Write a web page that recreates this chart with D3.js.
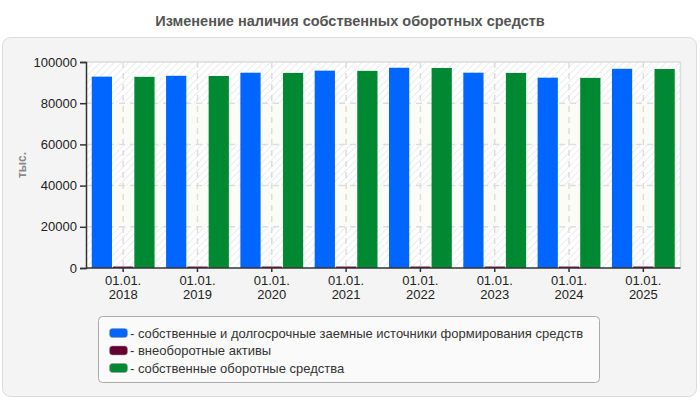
<!DOCTYPE html>
<html>
<head>
<meta charset="utf-8">
<script src="https://cdn.jsdelivr.net/npm/d3@7"></script>
<style>
  body { margin: 0; background: #fff; font-family: "Liberation Sans", Arial, sans-serif; }
  svg { display: block; }
</style>
</head>
<body>
<svg id="chart" width="700" height="400"></svg>
<script>
// chart values
const years = ["2018", "2019", "2020", "2021", "2022", "2023", "2024", "2025"];
const seriesNames = [
  "собственные и долгосрочные заемные источники формирования средств",
  "внеоборотные активы",
  "собственные оборотные средства"
];
const seriesColors = ["#0066ff", "#660033", "#008833"];
const ownAndLongTerm = [92900, 93300, 94800, 95800, 97200, 94800, 92400, 96700];
const nonCurrent = [700, 700, 700, 700, 700, 700, 700, 700];
const ownWorking = [92800, 93200, 94700, 95700, 97100, 94700, 92300, 96600];
const yTicks = [0, 20000, 40000, 60000, 80000, 100000];

const svg = d3.select("#chart");
const margin = { top: 62, right: 19.5, bottom: 132, left: 86 };
const width = 700 - margin.left - margin.right;
const height = 400 - margin.top - margin.bottom;

// title
svg.append("text")
  .attr("x", 350).attr("y", 26)
  .attr("text-anchor", "middle")
  .attr("font-size", 14.5).attr("font-weight", "bold")
  .attr("fill", "#555")
  .text("Изменение наличия собственных оборотных средств");

// outer panel
svg.append("rect")
  .attr("x", 2.5).attr("y", 37.5)
  .attr("width", 694).attr("height", 359)
  .attr("rx", 8)
  .attr("fill", "#f4f4f4")
  .attr("stroke", "#dcdcdc");

const defs = svg.append("defs");
const pat = defs.append("pattern")
  .attr("id", "hatch")
  .attr("patternUnits", "userSpaceOnUse")
  .attr("width", 5).attr("height", 5)
  .attr("patternTransform", "rotate(45)");
pat.append("rect").attr("width", 5).attr("height", 5).attr("fill", "#ffffff");
pat.append("line")
  .attr("x1", 0).attr("y1", 0).attr("x2", 0).attr("y2", 5)
  .attr("stroke", "#ececec").attr("stroke-width", 2);

const g = svg.append("g").attr("transform", `translate(${margin.left},${margin.top})`);

const x = d3.scaleBand().domain(years).range([0, width]).padding(0);
const x1 = d3.scaleBand().domain(d3.range(3)).range([0, x.bandwidth()])
  .paddingInner(0.05).paddingOuter(0.27);
const y = d3.scaleLinear().domain([0, 100000]).range([height, 0]);

// alternating background bands
g.selectAll(".band")
  .data(d3.pairs(yTicks))
  .enter().append("rect")
  .attr("x", 0).attr("width", width)
  .attr("y", (d) => y(d[1]))
  .attr("height", (d) => y(d[0]) - y(d[1]))
  .attr("fill", (d, i) => (i % 2 === 0 ? "url(#hatch)" : "#fcfcf7"));

// grid
g.selectAll(".hgrid")
  .data(yTicks.slice(1))
  .enter().append("line")
  .attr("x1", 0).attr("x2", width)
  .attr("y1", (d) => y(d)).attr("y2", (d) => y(d))
  .attr("stroke", "#dddddd")
  .attr("stroke-width", 1.5)
  .attr("stroke-dasharray", (d) => (d === 100000 ? null : "6,5"));

g.selectAll(".vgrid")
  .data(years)
  .enter().append("line")
  .attr("x1", (d) => x(d) + x.bandwidth() / 2)
  .attr("x2", (d) => x(d) + x.bandwidth() / 2)
  .attr("y1", 0).attr("y2", height)
  .attr("stroke", "#dddddd").attr("stroke-width", 1.5)
  .attr("stroke-dasharray", "6,5");

g.append("line")
  .attr("x1", width).attr("x2", width)
  .attr("y1", 0).attr("y2", height)
  .attr("stroke", "#dddddd").attr("stroke-width", 1.5);

// bars
const allSeries = [ownAndLongTerm, nonCurrent, ownWorking];
allSeries.forEach(function (vals, s) {
  g.selectAll(".bar" + s)
    .data(vals)
    .enter().append("rect")
    .attr("x", (d, i) => x(years[i]) + x1(s))
    .attr("width", x1.bandwidth())
    .attr("y", (d) => y(d))
    .attr("height", (d) => height - y(d))
    .attr("fill", seriesColors[s]);
});

// axes
const yAxis = g.append("g")
  .call(d3.axisLeft(y).tickValues(yTicks).tickSize(6).tickPadding(3).tickFormat(d3.format("d")));
yAxis.select(".domain").attr("stroke", "#333").attr("stroke-width", 1.5);
yAxis.selectAll(".tick line").attr("stroke", "#333").attr("stroke-width", 1.5);
yAxis.selectAll("text")
  .attr("font-size", 13).attr("fill", "#222")
  .attr("font-family", "Liberation Sans, Arial, sans-serif");

const xAxis = g.append("g")
  .attr("transform", `translate(0,${height})`)
  .call(d3.axisBottom(x).tickSize(4).tickFormat(""));
xAxis.select(".domain").attr("stroke", "#333").attr("stroke-width", 1.5)
  .attr("d", `M0,0H${width}`);
xAxis.selectAll(".tick line").attr("stroke", "#333").attr("stroke-width", 1.5);
xAxis.selectAll(".tick").each(function (d) {
  const t = d3.select(this).append("text")
    .attr("text-anchor", "middle")
    .attr("font-size", 13).attr("fill", "#222")
    .attr("font-family", "Liberation Sans, Arial, sans-serif");
  t.append("tspan").attr("x", 0).attr("y", 17).text("01.01.");
  t.append("tspan").attr("x", 0).attr("y", 31).text(d);
});

// y axis label
svg.append("text")
  .attr("transform", "translate(26,165) rotate(-90)")
  .attr("text-anchor", "middle")
  .attr("font-size", 12).attr("font-weight", "bold")
  .attr("fill", "#888")
  .text("тыс.");

// legend
const legend = svg.append("g").attr("transform", "translate(98.5,316.5)");
legend.append("rect")
  .attr("width", 501).attr("height", 66)
  .attr("rx", 4)
  .attr("fill", "#fafafa").attr("stroke", "#aaaaaa");

const items = legend.selectAll(".item")
  .data(seriesNames)
  .enter().append("g")
  .attr("transform", (d, i) => `translate(11,${16.5 + i * 17.5})`);
items.append("rect")
  .attr("x", 0).attr("y", -4.5)
  .attr("width", 18).attr("height", 9)
  .attr("rx", 3)
  .attr("fill", (d, i) => seriesColors[i])
  .attr("stroke", "#999").attr("stroke-width", 0.5);
items.append("text")
  .attr("x", 20.5).attr("y", 4.5)
  .attr("font-size", 13).attr("fill", "#333")
  .text((d) => "- " + d);
</script>
</body>
</html>
